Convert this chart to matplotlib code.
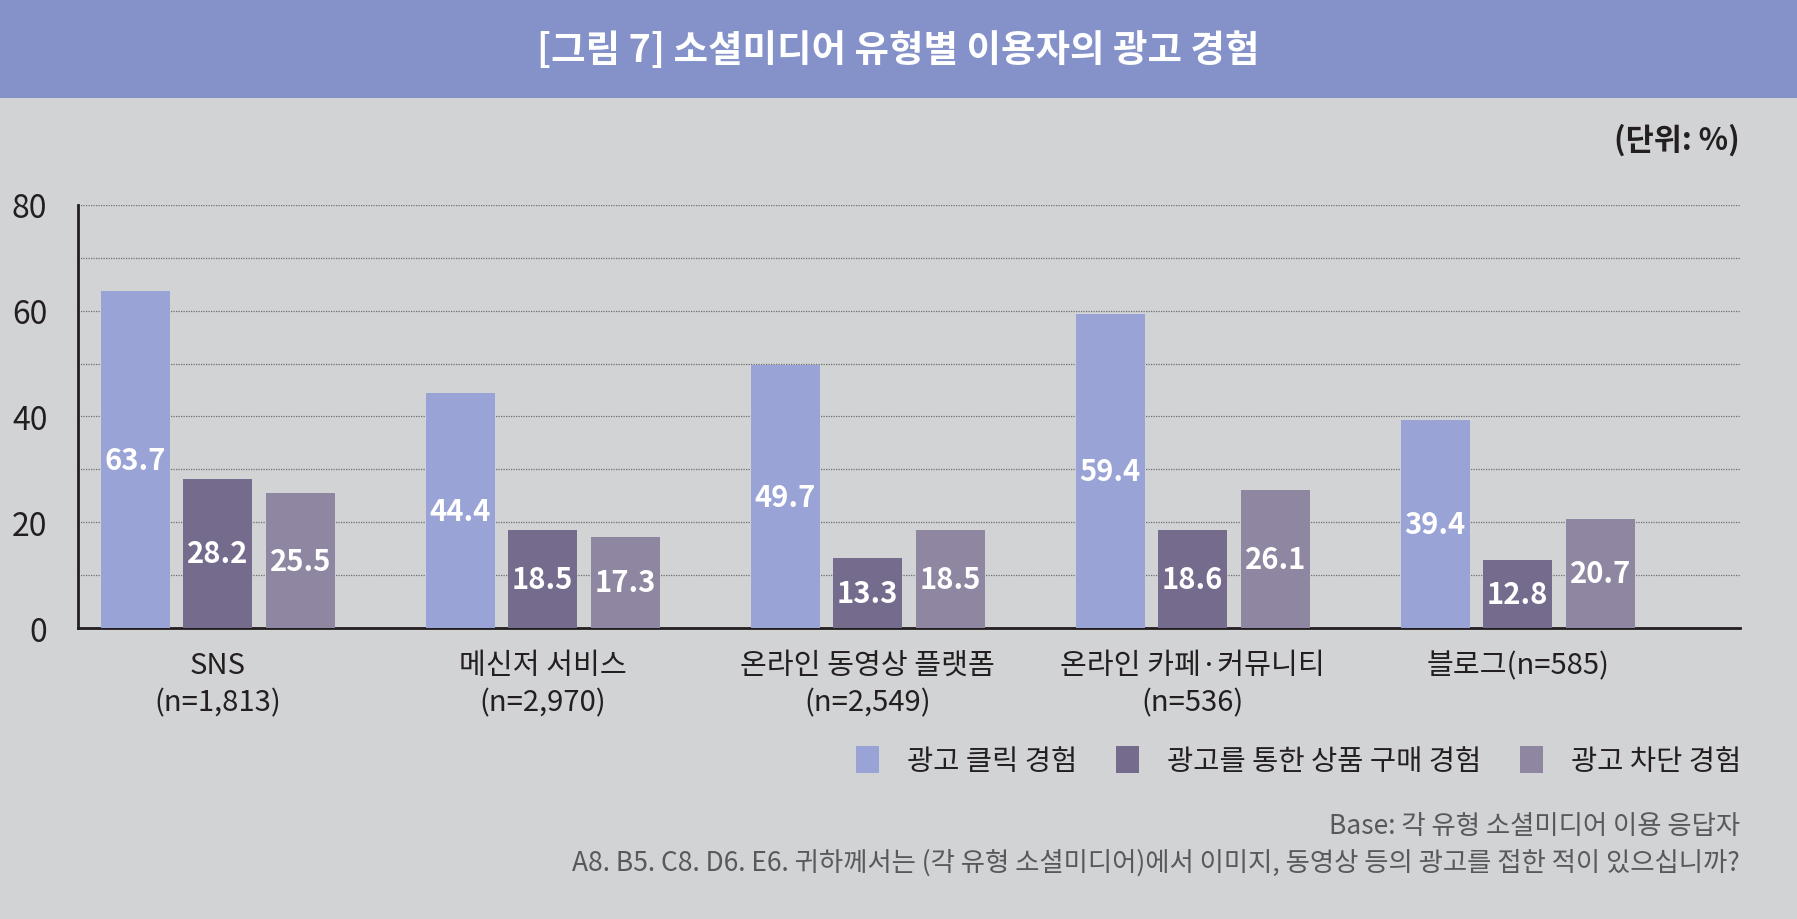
import matplotlib
matplotlib.use("Agg")
import matplotlib.pyplot as plt
import numpy as np
from matplotlib.patches import Rectangle

plt.rcParams["font.family"] = ["Noto Sans CJK KR", "DejaVu Sans"]

# 데이터
CATEGORIES = ["SNS\n(n=1,813)", "메신저 서비스\n(n=2,970)", "온라인 동영상 플랫폼\n(n=2,549)",
              "온라인 카페·커뮤니티\n(n=536)", "블로그(n=585)"]
SERIES = ["광고 클릭 경험", "광고를 통한 상품 구매 경험", "광고 차단 경험"]
CLICK = [63.7, 44.4, 49.7, 59.4, 39.4]
PURCHASE = [28.2, 18.5, 13.3, 18.6, 12.8]
BLOCK = [25.5, 17.3, 18.5, 26.1, 20.7]
YTICKS = [0, 20, 40, 60, 80]

COLORS = ["#99a3d5", "#756b8d", "#8f86a1"]
BG = "#d2d3d5"

W, H = 1797, 920
fig = plt.figure(figsize=(W / 100, H / 100), dpi=100, facecolor=BG)

# 상단 제목 띠
fig.patches.append(Rectangle((0, 1 - 99 / H), 1, 99 / H, transform=fig.transFigure,
                             facecolor="#8592c9", edgecolor="none", zorder=0))
fig.text(0.5, 1 - 51 / H, "[그림 7] 소셜미디어 유형별 이용자의 광고 경험",
         ha="center", va="center", color="white", fontsize=27, fontweight="bold")
fig.text(1740 / W, 1 - 140 / H, "(단위: %)", ha="right", va="center",
         color="#231f20", fontsize=22, fontweight="bold")

ax = fig.add_axes([78 / W, 291 / H, (1740 - 78) / W, (629 - 206) / H])
ax.set_facecolor(BG)

x = np.arange(len(CATEGORIES))
pitch, width = 0.254, 0.2116
for i, (vals, col) in enumerate(zip([CLICK, PURCHASE, BLOCK], COLORS)):
    pos = x + (i - 1) * pitch
    bars = ax.bar(pos, vals, width, color=col, label=SERIES[i], zorder=3)
    for b, v in zip(bars, vals):
        ax.text(b.get_x() + b.get_width() / 2, v / 2, f"{v:.1f}", ha="center", va="center",
                color="white", fontsize=21, fontweight="bold", zorder=4)

ax.set_xlim(-0.430, 4.684)
ax.set_ylim(0, 80)
ax.set_yticks(YTICKS)
ax.set_yticks(np.arange(10, 80, 20), minor=True)
ax.grid(axis="y", which="both", linestyle=(0, (1, 1)), color="#6d6e70", linewidth=0.9, zorder=1)
ax.tick_params(axis="y", which="both", length=0, labelsize=23, labelcolor="#231f20", pad=22)
ax.set_xticks(x)
ax.set_xticklabels(CATEGORIES, fontsize=21, color="#231f20", linespacing=1.3)
ax.tick_params(axis="x", length=0, pad=16)
for s in ["top", "right"]:
    ax.spines[s].set_visible(False)
ax.spines["left"].set_linewidth(2)
ax.spines["bottom"].set_linewidth(2)
ax.spines["left"].set_color("#231f20")
ax.spines["bottom"].set_color("#231f20")

leg = fig.legend(loc="center right", bbox_to_anchor=(1767 / W, 1 - 762 / H), ncol=3,
                 frameon=False, fontsize=20.5, handlelength=0.8, handleheight=1.1,
                 handletextpad=1.0, columnspacing=1.35)
for t in leg.get_texts():
    t.set_color("#231f20")

fig.text(1740 / W, 1 - 827 / H, "Base: 각 유형 소셜미디어 이용 응답자",
         ha="right", va="center", color="#58595b", fontsize=19)
fig.text(1740 / W, 1 - 863 / H,
         "A8. B5. C8. D6. E6. 귀하께서는 (각 유형 소셜미디어)에서 이미지, 동영상 등의 광고를 접한 적이 있으십니까?",
         ha="right", va="center", color="#58595b", fontsize=19)

fig.savefig("out.png", dpi=100, facecolor=BG)
